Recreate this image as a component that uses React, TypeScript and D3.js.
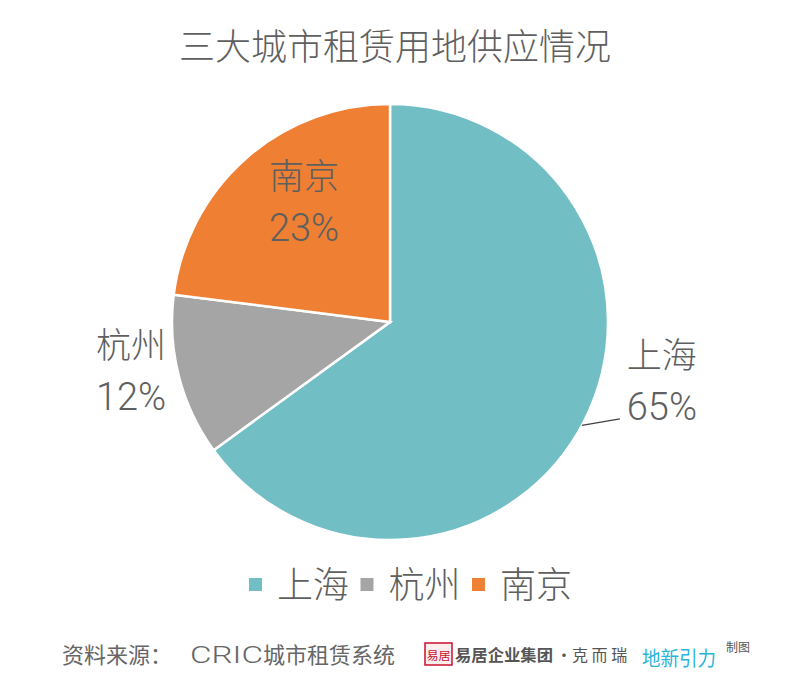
import React from "react";
import * as d3 from "d3";

const categories = ["上海", "杭州", "南京"];
const values = [65, 12, 23];
const colors = ["#72BEC5", "#A5A5A6", "#EE7F33"];
const title = "三大城市租赁用地供应情况";
const sourceLabel = "资料来源：";
const sourceName = "CRIC";
const sourceRest = "城市租赁系统";

const W = 800, H = 681;
const cx = 390, cy = 322, R = 218;
const font = "'Noto Sans CJK SC', 'Noto Sans', sans-serif";
const latinFont = "Roboto, 'Liberation Sans', sans-serif";
const textColor = "#5f5f5f";

// label placement (polar offsets from pie center, in units of R)
const labelLayout = [
  { rf: 1.275, angDeg: 102, leader: true },
  { rf: 1.208, angDeg: 259.5, leader: false },
  { rf: 0.681, angDeg: 324.6, leader: false },
];

export default function App() {
  const pie = d3.pie<number>().sort(null).value((d) => d);
  const arcs = pie(values);
  const arc = d3.arc<d3.PieArcDatum<number>>().innerRadius(0).outerRadius(R);
  const total = d3.sum(values);

  const polar = (rad: number, ang: number) => {
    const a = (ang * Math.PI) / 180;
    return [cx + rad * Math.sin(a), cy - rad * Math.cos(a)];
  };

  return (
    <svg width={W} height={H} style={{ display: "block", position: "absolute", left: 0, top: 0, background: "#fff" }}>
      <rect width={W} height={H} fill="#fff" />
      <text x={395} y={60} textAnchor="middle" fontFamily={font} fontSize={36} fontWeight={300} fill={textColor}>
        {title}
      </text>
      <g>
        {arcs.map((a, i) => (
          <path key={i} d={arc(a) || ""} transform={`translate(${cx},${cy})`} fill={colors[i]} stroke="#fff" strokeWidth={2.5} />
        ))}
      </g>
      {arcs.map((a, i) => {
        const L = labelLayout[i];
        const [lx, ly] = polar(L.rf * R, L.angDeg);
        const pct = Math.round((values[i] / total) * 100) + "%";
        const midAng = ((a.startAngle + a.endAngle) / 2) * 180 / Math.PI;
        return (
          <g key={i}>
            {L.leader && (() => {
              const [sx, sy] = polar(R, midAng + 1.3);
              return <polyline points={`${sx},${sy} ${lx - 42},${ly + 39}`} fill="none" stroke="#404040" strokeWidth={1.3} />;
            })()}
            <text x={lx} y={ly - 12} textAnchor="middle" fontFamily={font} fontSize={35} fontWeight={300} fill={textColor}>
              {categories[i]}
            </text>
            <text x={lx} y={ly + 40} textAnchor="middle" fontFamily={latinFont} fontSize={38} fontWeight={300} fill={textColor}>
              {pct}
            </text>
          </g>
        );
      })}
      <g>
        {categories.map((c, i) => {
          const x0 = 249 + i * 111.5;
          return (
            <g key={c}>
              <rect x={x0} y={578} width={13} height={13} fill={colors[i]} />
              <text x={x0 + 28} y={598} fontFamily={font} fontSize={36} fontWeight={300} fill={textColor}>
                {c}
              </text>
            </g>
          );
        })}
      </g>
      <g fill="#666" fontFamily={font}>
        <text x={62} y={663} fontSize={22}>{sourceLabel}</text>
        <text x={190} y={663} fontSize={23} fontFamily={latinFont} fontWeight={300} textLength={73} lengthAdjust="spacingAndGlyphs">{sourceName}</text>
        <text x={263} y={663} fontSize={22}>{sourceRest}</text>
      </g>
      <g>
        <rect x={425} y={643} width={27} height={22} fill="#fdeeee" stroke="#C8102E" strokeWidth={1.5} />
        <text x={438.5} y={660} textAnchor="middle" fontFamily={font} fontSize={11} fill="#C8102E" textLength={24} lengthAdjust="spacingAndGlyphs">易居</text>
        <text x={455} y={661} fontFamily={font} fontSize={16} fontWeight={700} fill="#555" textLength={98} lengthAdjust="spacingAndGlyphs">易居企业集团</text>
        <text x={556} y={661} fontFamily={font} fontSize={16} fill="#555">·克 而 瑞</text>
        <text x={642} y={666} fontFamily={font} fontSize={20} fill="#2BB3D8" textLength={74} lengthAdjust="spacingAndGlyphs">地新引力</text>
        <text x={726} y={652} fontFamily={font} fontSize={12} fill="#555">制图</text>
      </g>
    </svg>
  );
}
